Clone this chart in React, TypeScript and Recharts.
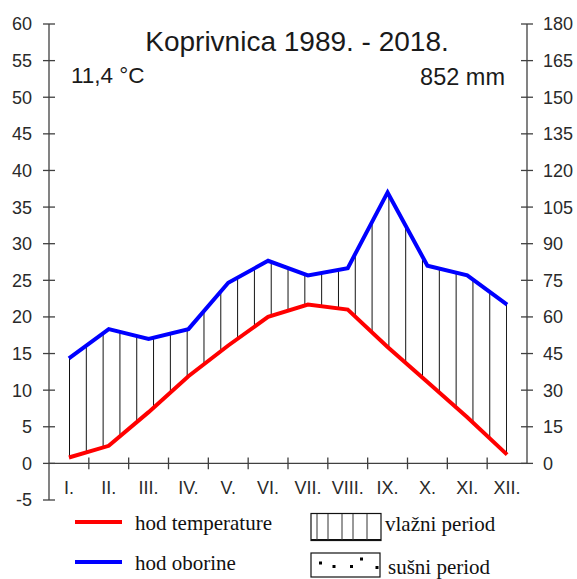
import React from "react";
import {
  ComposedChart, Line, Area, XAxis, YAxis, ReferenceLine,
} from "recharts";

const MONTHS = ["I.", "II.", "III.", "IV.", "V.", "VI.", "VII.", "VIII.", "IX.", "X.", "XI.", "XII."];
// mean monthly air temperature, °C
const TEMP = [0.8, 2.4, 7.0, 11.9, 16.1, 20.0, 21.7, 21.0, 15.9, 11.1, 6.3, 1.2];
// mean monthly precipitation, mm
const PRECIP = [43, 55, 51, 55, 74, 83, 77, 80, 111, 81, 77, 65];

const LEFT_TICKS = [-5, 0, 5, 10, 15, 20, 25, 30, 35, 40, 45, 50, 55, 60];
const RIGHT_TICKS = [0, 15, 30, 45, 60, 75, 90, 105, 120, 135, 150, 165, 180];
const MONTH_BOUNDS = [1, 2, 3, 4, 5, 6, 7, 8, 9, 10, 11];

// 1 °C on the left axis = 3 mm on the right axis
const MM_PER_DEG = 3;

const AXIS = "#404040";
const LABEL = "#2a2a2a";
const SANS = "'Liberation Sans', Arial, sans-serif";
const SERIF = "'Liberation Serif', 'Times New Roman', serif";

const data = MONTHS.map((m, i) => ({
  x: i + 0.5,
  month: m,
  temp: TEMP[i],
  prec: PRECIP[i],
  band: [TEMP[i], PRECIP[i] / MM_PER_DEG],
}));

function LeftTick({ x, y, payload }: any) {
  return (
    <g>
      <line x1={x + 10} x2={x + 22} y1={y} y2={y} stroke={AXIS} strokeWidth={1.3} />
      <text x={x - 1} y={y} dy="0.36em" textAnchor="end" fontSize={18} fontFamily={SANS} fill={LABEL}>
        {payload.value}
      </text>
    </g>
  );
}

function RightTick({ x, y, payload }: any) {
  return (
    <g>
      <line x1={x - 22} x2={x - 10} y1={y} y2={y} stroke={AXIS} strokeWidth={1.3} />
      <text x={x} y={y} dy="0.36em" textAnchor="start" fontSize={18} fontFamily={SANS} fill={LABEL}>
        {payload.value}
      </text>
    </g>
  );
}

function MonthTick({ x, y, payload }: any) {
  const m = MONTHS[Math.floor(payload.value)];
  return (
    <text x={x} y={y - 20} dy="0.36em" textAnchor="middle" fontSize={18} fontFamily={SANS} fill={LABEL}>
      {m}
    </text>
  );
}

export default function App() {
  return (
    <div style={{ position: "fixed", left: 0, top: 0, width: 577, height: 579, background: "#fff" }}>
      <svg width={0} height={0} style={{ position: "absolute" }}>
        <defs>
          <pattern id="hatch" patternUnits="userSpaceOnUse" x={69} y={0} width={16.81} height={20}>
            <line x1={0.5} x2={0.5} y1={0} y2={20} stroke="#111" strokeWidth={1} />
          </pattern>
        </defs>
      </svg>
      <ComposedChart
        width={577}
        height={579}
        data={data}
        margin={{ top: 24, right: 0, bottom: 49, left: 0 }}
      >
        <XAxis
          dataKey="x"
          type="number"
          domain={[0, 12]}
          ticks={data.map((d) => d.x)}
          axisLine={false}
          tickLine={false}
          tickSize={6}
          tickMargin={2}
          height={30}
          tick={<MonthTick />}
        />
        <YAxis
          yAxisId="left"
          domain={[-5, 60]}
          ticks={LEFT_TICKS}
          interval={0}
          width={49}
          axisLine={{ stroke: AXIS, strokeWidth: 1.3 }}
          tickLine={false}
          tickSize={6}
          tickMargin={10}
          tick={<LeftTick />}
        />
        <YAxis
          yAxisId="right"
          orientation="right"
          domain={[-5 * MM_PER_DEG, 60 * MM_PER_DEG]}
          ticks={RIGHT_TICKS}
          interval={0}
          width={50}
          axisLine={false}
          tickLine={false}
          tickSize={6}
          tickMargin={10}
          tick={<RightTick />}
        />
        <ReferenceLine yAxisId="left" y={0} stroke={AXIS} strokeWidth={1.3} />
        <ReferenceLine
          yAxisId="right"
          segment={[{ x: 12, y: 0 }, { x: 12, y: 60 * MM_PER_DEG }]}
          stroke={AXIS}
          strokeWidth={1.3}
          ifOverflow="visible"
        />
        {MONTH_BOUNDS.map((b) => (
          <ReferenceLine
            key={b}
            yAxisId="left"
            segment={[{ x: b, y: -0.8 }, { x: b, y: 0.8 }]}
            stroke={AXIS}
            strokeWidth={1.3}
          />
        ))}
        <Area
          yAxisId="left"
          type="linear"
          dataKey="band"
          fill="url(#hatch)"
          fillOpacity={1}
          stroke="none"
          isAnimationActive={false}
          activeDot={false}
        />
        <Line
          yAxisId="left"
          type="linear"
          dataKey="temp"
          stroke="#ff0000"
          strokeWidth={4}
          dot={false}
          isAnimationActive={false}
        />
        <Line
          yAxisId="right"
          type="linear"
          dataKey="prec"
          stroke="#0000ff"
          strokeWidth={4}
          dot={false}
          isAnimationActive={false}
        />
      </ComposedChart>

      <svg width={577} height={579} style={{ position: "absolute", left: 0, top: 0, pointerEvents: "none" }}>
        <text x={297} y={51} textAnchor="middle" fontSize={28} fontFamily={SANS} fill="#1a1a1a">
          Koprivnica 1989. - 2018.
        </text>
        <text x={71} y={83} fontSize={22.5} fontFamily={SANS} fill="#1a1a1a">11,4 °C</text>
        <text x={505} y={85} textAnchor="end" fontSize={23.5} fontFamily={SANS} fill="#1a1a1a">852 mm</text>

        <line x1={75} x2={122} y1={522} y2={522} stroke="#ff0000" strokeWidth={4} />
        <text x={135} y={530} fontSize={21} fontFamily={SERIF} fill="#111">hod temperature</text>
        <line x1={75} x2={122} y1={562} y2={562} stroke="#0000ff" strokeWidth={4} />
        <text x={135} y={570} fontSize={21} fontFamily={SERIF} fill="#111">hod oborine</text>

        <rect x={311} y={513.5} width={70} height={27} fill="none" stroke="#111" strokeWidth={1.2} />
        <line x1={311} x2={381} y1={540} y2={540} stroke="#111" strokeWidth={2.2} />
        {[317, 328, 342, 353, 367].map((lx) => (
          <line key={lx} x1={lx} x2={lx} y1={514} y2={540} stroke="#333" strokeWidth={1} />
        ))}
        <text x={385} y={531} fontSize={21} fontFamily={SERIF} fill="#111">vlažni period</text>

        <rect x={311} y={553} width={69} height={24} fill="none" stroke="#111" strokeWidth={1.2} />
        {[[320.5, 563], [334, 566.5], [351.5, 566.5], [361.5, 559], [377, 567.5]].map(([dx, dy]) => (
          <rect key={dx} x={dx - 1.5} y={dy - 1.5} width={3} height={3} fill="#000" />
        ))}
        <text x={388} y={574} fontSize={21} fontFamily={SERIF} fill="#111">sušni period</text>
      </svg>
    </div>
  );
}
